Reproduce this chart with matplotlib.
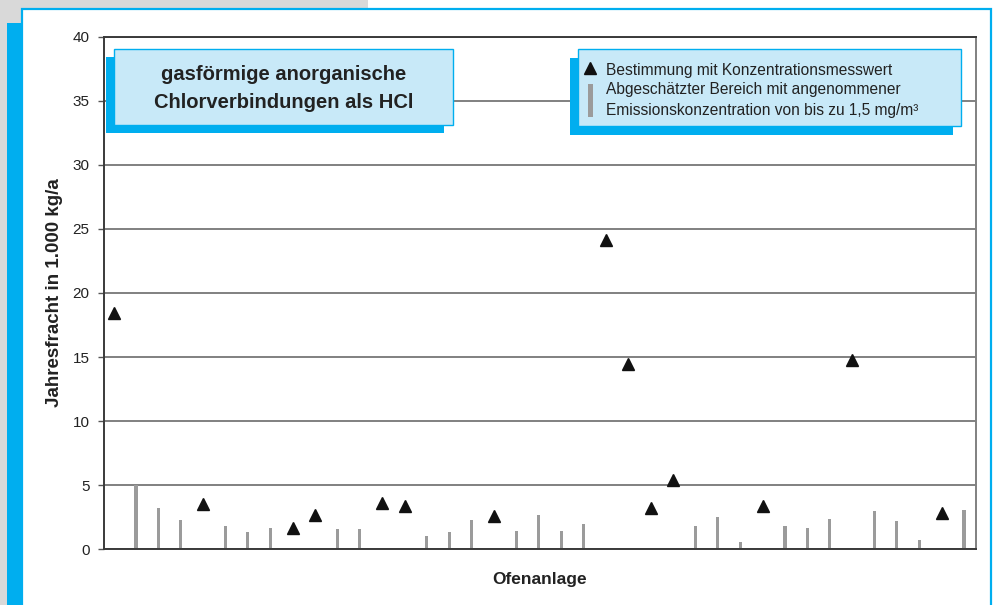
import numpy as np
import matplotlib
matplotlib.use("Agg")
import matplotlib.pyplot as plt
from matplotlib.patches import Rectangle
from matplotlib.lines import Line2D

plt.rcParams['font.family'] = ['Liberation Sans', 'DejaVu Sans']

# ---- data ----
n_plants = 39
measured_plants = [0, 4, 8, 9, 12, 13, 17, 22, 23, 24, 25, 29, 33, 37]
measured_values = [18.45, 3.5, 1.65, 2.7, 3.65, 3.4, 2.6, 24.15, 14.45, 3.2, 5.4, 3.35, 14.8, 2.85]
estimated_plants = [1, 2, 3, 5, 6, 7, 10, 11, 14, 15, 16, 18, 19, 20, 21,
                    26, 27, 28, 30, 31, 32, 34, 35, 36, 38]
estimated_values = [5.05, 3.25, 2.3, 1.8, 1.35, 1.7, 1.55, 1.55, 1.0, 1.35, 2.3, 1.4, 2.7, 1.45, 2.0,
                    1.85, 2.55, 0.55, 1.85, 1.65, 2.4, 2.95, 2.2, 0.7, 3.05]
y_ticks = [0, 5, 10, 15, 20, 25, 30, 35, 40]

title_lines = ["gasförmige anorganische", "Chlorverbindungen als HCl"]
legend_labels = ["Bestimmung mit Konzentrationsmesswert",
                 "Abgeschätzter Bereich mit angenommener",
                 "Emissionskonzentration von bis zu 1,5 mg/m³"]
ylabel = "Jahresfracht in 1.000 kg/a"
xlabel = "Ofenanlage"

W, H = 994, 605
BLUE = '#00aeef'
LIGHT = '#c8e9f8'
GRAY_BAR = '#9b9b9b'

fig = plt.figure(figsize=(W / 100, H / 100), dpi=100)
fig.patch.set_facecolor('white')


def fx(x):
    return x / W


def fy(y):
    return 1 - y / H


def prect(x0, y0, x1, y1, **kw):
    r = Rectangle((fx(x0), fy(y1)), fx(x1) - fx(x0), fy(y0) - fy(y1),
                  transform=fig.transFigure, **kw)
    fig.patches.append(r)
    return r


# ---- background decoration ----
prect(0, 0, 368, 8.5, facecolor='#d9d9d9', edgecolor='none', zorder=0)
prect(0, 0, 22, 23, facecolor='#d9d9d9', edgecolor='none', zorder=0)
prect(0, 0, 6.5, H, facecolor='#d9d9d9', edgecolor='none', zorder=0)
prect(22, 9, 990.5, H + 5, facecolor='none', edgecolor=BLUE, linewidth=1.6, zorder=0.5)
prect(6.5, 23, 22, H + 5, facecolor=BLUE, edgecolor='none', zorder=0.6)

# ---- axes ----
ax = fig.add_axes([fx(103.5), fy(549.3), fx(975.7) - fx(103.5), fy(36.7) - fy(549.3)])
ax.set_xlim(-0.45, 38.52)
ax.set_ylim(0, 40)
ax.set_yticks(y_ticks)
ax.set_xticks([])
ax.yaxis.grid(True, color='#808080', linewidth=1.4)
ax.set_axisbelow(True)
for side in ['left', 'bottom', 'top']:
    ax.spines[side].set_color('#3a3a3a')
    ax.spines[side].set_linewidth(1.4)
ax.spines['right'].set_color('#808080')
ax.spines['right'].set_linewidth(1.4)
ax.tick_params(axis='y', length=4, width=1.0, color='#555555', pad=6,
               labelsize=11, labelcolor='#222222')

ax.bar(estimated_plants, estimated_values, width=0.14, color=GRAY_BAR, zorder=2)
ax.plot(measured_plants, measured_values, linestyle='none', marker='^',
        markersize=8.4, color='#111111', zorder=3)

ax.set_ylabel(ylabel, fontsize=13.5, fontweight='bold', labelpad=7, color='#222222')
ax.set_xlabel(xlabel, fontsize=12.5, fontweight='bold', labelpad=16, color='#222222')

# ---- title box ----
prect(106, 57, 444, 132.5, facecolor=BLUE, edgecolor='none', zorder=4)
prect(114, 48.5, 453, 125, facecolor=LIGHT, edgecolor=BLUE, linewidth=1.0, zorder=5)
fig.text(fx(283.5), fy(75), title_lines[0], ha='center', va='center',
         fontsize=14.5, fontweight='bold', color='#222222', zorder=6)
fig.text(fx(283.5), fy(102), title_lines[1], ha='center', va='center',
         fontsize=14.5, fontweight='bold', color='#222222', zorder=6)

# ---- legend box ----
prect(570, 58.3, 953, 135, facecolor=BLUE, edgecolor='none', zorder=4)
prect(578, 49.3, 960.7, 126, facecolor=LIGHT, edgecolor=BLUE, linewidth=1.0, zorder=5)
fig.lines.append(Line2D([fx(590)], [fy(68)], transform=fig.transFigure, marker='^',
                        markersize=8.4, color='#111111', linestyle='none', zorder=6))
prect(587.5, 84, 592.5, 117, facecolor=GRAY_BAR, edgecolor='none', zorder=6)
for yy, lab in zip([70, 89.5, 110], legend_labels):
    fig.text(fx(606.5), fy(yy), lab, ha='left', va='center', fontsize=11.2,
             color='#222222', zorder=6)

fig.savefig('out.png', dpi=100)
